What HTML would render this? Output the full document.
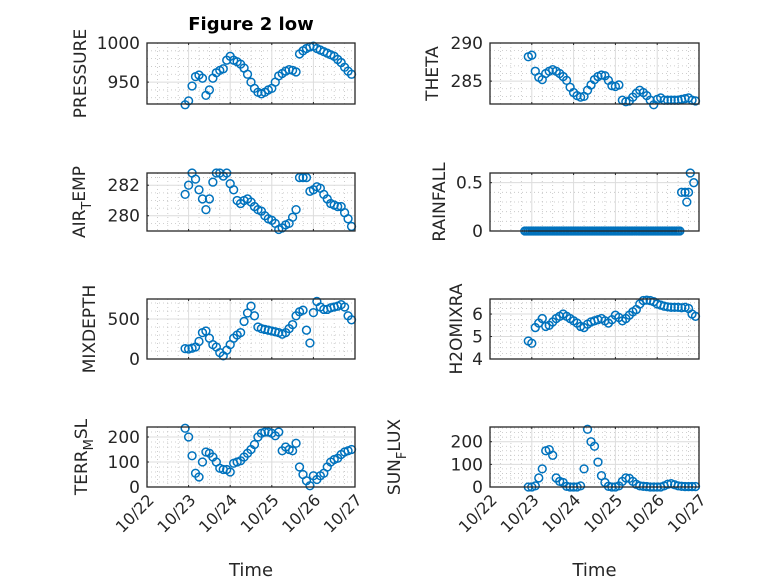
<!DOCTYPE html>
<html><head><meta charset="utf-8"><style>
body{margin:0;background:#fff;}
svg{display:block;font-family:"DejaVu Sans","Liberation Sans",sans-serif;}
</style></head><body>
<svg id="fig" width="778" height="583" viewBox="0 0 778 583" xmlns="http://www.w3.org/2000/svg">
<rect width="778" height="583" fill="#fff"/>
<text x="251" y="30" text-anchor="middle" font-size="18" font-weight="bold" fill="#000">Figure 2 low</text>
</svg>
<script>
// common time axis: hours since 10/22 00:00
const hours = [22,24,26,28,30,32,34,36,38,40,42,44,46,48,50,52,54,56,58,60,62,64,66,68,70,72,74,76,78,80,82,84,86,88,90,92,94,96,98,100,102,104,106,108,110,112,114,116,118];
const rainHours = [20,21,22,23,24,25,26,27,28,29,30,31,32,33,34,35,36,37,38,39,40,41,42,43,44,45,46,47,48,49,50,51,52,53,54,55,56,57,58,59,60,61,62,63,64,65,66,67,68,69,70,71,72,73,74,75,76,77,78,79,80,81,82,83,84,85,86,87,88,89,90,91,92,93,94,95,96,97,98,99,100,101,102,103,104,105,106,107,108,109,110,112,113,114,115,117];
const xTickLabels = ["10/22","10/23","10/24","10/25","10/26","10/27"];
const pressureVals = [921,926,945,957,959,955,933,940,955,962,965,967,978,983,978,976,973,968,960,950,942,937,935,937,940,942,950,958,961,964,966,965,963,986,990,993,995,996,993,991,989,987,985,983,979,975,969,964,960];
const thetaVals = [288.2,288.4,286.3,285.5,285.2,286.0,286.3,286.5,286.3,286.0,285.6,285.1,284.2,283.5,283.1,282.9,283.0,283.8,284.5,285.2,285.6,285.8,285.7,285.1,284.4,284.3,284.5,282.5,282.3,282.4,282.9,283.4,283.8,283.5,283.1,282.5,281.9,282.6,282.8,282.5,282.5,282.5,282.5,282.5,282.6,282.7,282.8,282.5,282.4];
const airTempVals = [281.4,282.0,282.8,282.4,281.7,281.1,280.4,281.1,282.2,282.8,282.8,282.6,282.8,282.1,281.7,281.0,280.8,281.0,281.1,280.9,280.6,280.4,280.3,280.0,279.8,279.7,279.5,279.1,279.2,279.4,279.5,279.9,280.4,282.5,282.5,282.5,281.6,281.7,281.9,281.8,281.4,281.1,280.8,280.7,280.6,280.6,280.2,279.8,279.3];
const rainVals = [0,0,0,0,0,0,0,0,0,0,0,0,0,0,0,0,0,0,0,0,0,0,0,0,0,0,0,0,0,0,0,0,0,0,0,0,0,0,0,0,0,0,0,0,0,0,0,0,0,0,0,0,0,0,0,0,0,0,0,0,0,0,0,0,0,0,0,0,0,0,0,0,0,0,0,0,0,0,0,0,0,0,0,0,0,0,0,0,0,0,0.4,0.4,0.3,0.4,0.6,0.5];
const mixVals = [130,125,135,150,220,330,350,260,180,150,80,40,110,180,260,300,330,470,575,660,540,400,380,370,360,350,340,330,310,330,380,430,540,590,610,360,200,580,720,650,620,620,640,650,660,680,650,540,490];
const h2oVals = [4.8,4.7,5.4,5.6,5.8,5.45,5.5,5.65,5.8,5.9,6.0,5.9,5.8,5.7,5.6,5.45,5.4,5.55,5.65,5.7,5.75,5.8,5.7,5.6,5.75,5.95,5.85,5.7,5.8,5.95,6.1,6.2,6.45,6.6,6.62,6.6,6.55,6.45,6.4,6.35,6.32,6.3,6.3,6.3,6.28,6.3,6.25,6.0,5.9];
const terrVals = [235,200,125,55,40,100,140,135,120,100,75,70,70,60,95,100,105,120,135,150,170,200,215,220,220,215,205,220,145,160,150,145,175,80,50,25,5,45,30,45,55,80,100,110,115,130,140,145,150];
const sunVals = [0,0,5,40,80,160,165,140,40,25,20,3,0,0,0,5,80,255,200,180,110,50,20,3,0,0,5,25,40,38,25,12,5,3,2,0,0,0,0,5,12,15,10,5,3,2,2,2,2];

const panels = [
 {name:"pressure",label:["PRESSURE"],lx:86,t:hours,vals:pressureVals,ylim:[922,1000],ticks:[950,1000],minor:10,L:147,R:355,T:43,B:104,bottom:false},
 {name:"theta",label:["THETA"],lx:438,t:hours,vals:thetaVals,ylim:[282,290],ticks:[285,290],minor:1,L:490,R:699,T:43,B:104,bottom:false},
 {name:"air-temp",label:["AIR","T","EMP"],lx:85,t:hours,vals:airTempVals,ylim:[279,282.8],ticks:[280,282],minor:0.5,L:147,R:355,T:173,B:231,bottom:false},
 {name:"rainfall",label:["RAINFALL"],lx:445,t:rainHours,vals:rainVals,ylim:[0,0.6],ticks:[0,0.5],minor:0.1,L:490,R:699,T:173,B:231,bottom:false},
 {name:"mixdepth",label:["MIXDEPTH"],lx:95,t:hours,vals:mixVals,ylim:[0,750],ticks:[0,500],minor:100,L:147,R:355,T:299,B:359,bottom:false},
 {name:"h2omixra",label:["H2OMIXRA"],lx:462,t:hours,vals:h2oVals,ylim:[4,6.67],ticks:[4,5,6],minor:0.25,L:490,R:699,T:299,B:359,bottom:false},
 {name:"terr-msl",label:["TERR","M","SL"],lx:87,t:hours,vals:terrVals,ylim:[0,240],ticks:[0,100,200],minor:20,L:147,R:355,T:427,B:487,bottom:true},
 {name:"sun-flux",label:["SUN","F","LUX"],lx:400,t:hours,vals:sunVals,ylim:[0,265],ticks:[0,100,200],minor:20,L:490,R:699,T:427,B:487,bottom:true}
];
const NS="http://www.w3.org/2000/svg";
const svg=document.getElementById('fig');
function mk(tag,attrs,parent){const e=document.createElementNS(NS,tag);for(const k in attrs)e.setAttribute(k,attrs[k]);(parent||svg).appendChild(e);return e;}

panels.forEach(p=>{
  const g=mk('g',{});
  
  
  const X=h=>p.L+h*(p.R-p.L)/120;
  const Y=v=>p.B-(v-p.ylim[0])*(p.B-p.T)/(p.ylim[1]-p.ylim[0]);
  for(let h=6;h<120;h+=6){ if(h%24===0) continue;
    const l=mk('line',{x1:X(h),x2:X(h),y1:p.T,y2:p.B,stroke:'#c0c0c0','stroke-width':0.8,'stroke-dasharray':'1,3'},g);
    
    
  }
  const start=Math.ceil(p.ylim[0]/p.minor)*p.minor;
  for(let v=start;v<p.ylim[1]-1e-9;v+=p.minor){ if(p.ticks.some(t=>Math.abs(t-v)<1e-6)) continue;
    const l=mk('line',{x1:p.L,x2:p.R,y1:Y(v),y2:Y(v),stroke:'#c0c0c0','stroke-width':0.8,'stroke-dasharray':'1,3'},g);
    
    
  }
  for(let d=1;d<5;d++){
    const l=mk('line',{x1:X(d*24),x2:X(d*24),y1:p.T,y2:p.B,stroke:'#dcdcdc','stroke-width':1},g);
    
    
  }
  p.ticks.forEach(t=>{
    const l=mk('line',{x1:p.L,x2:p.R,y1:Y(t),y2:Y(t),stroke:'#dcdcdc','stroke-width':1},g);
    
    
    const tx=mk('text',{x:p.L-7,y:Y(t)+6,'text-anchor':'end','font-size':17,fill:'#262626'},g);
    tx.textContent=t;
    
    
    const tk=mk('line',{x1:p.L,x2:p.L+2,y1:Y(t),y2:Y(t),stroke:'#262626'},g);
    
    
  });
  for(let d=0;d<=5;d++){
    const tk=mk('line',{x1:X(d*24),x2:X(d*24),y1:p.B,y2:p.B-2,stroke:'#262626'},g);
    
    
    const tk2=mk('line',{x1:X(d*24),x2:X(d*24),y1:p.T,y2:p.T+2,stroke:'#262626'},g);
    
    
    if(p.bottom){
      const ax=X(d*24)+8, ay=p.B+14;
      const tx=mk('text',{x:ax,y:ay,'text-anchor':'end','font-size':16,fill:'#262626',transform:`rotate(-45 ${ax} ${ay})`},g);
      tx.textContent=xTickLabels[d];
      
      
    }
  }
  p.vals.forEach((v,i)=>{
    const c=mk('circle',{cx:X(p.t[i]),cy:Y(v),r:3.9,fill:'none',stroke:'#0072BD','stroke-width':1.5},g);
    
    
  });
  const b=mk('rect',{x:p.L,y:p.T,width:p.R-p.L,height:p.B-p.T,fill:'none',stroke:'#262626','stroke-width':1.3},g);
  
  
  const lx=p.lx, ly=(p.T+p.B)/2;
  const yl=mk('text',{x:lx,y:ly,'text-anchor':'middle','font-size':17,fill:'#262626',transform:`rotate(-90 ${lx} ${ly})`},g);
  
  
  if(p.label.length===1){ yl.textContent=p.label[0]; }
  else{
    const a=mk('tspan',{},yl); a.textContent=p.label[0];
    const s=mk('tspan',{dy:6,'font-size':13},yl); s.textContent=p.label[1];
    const c=mk('tspan',{dy:-6},yl); c.textContent=p.label[2];
  }
  if(p.bottom){
    const tt=mk('text',{x:(p.L+p.R)/2,y:576,'text-anchor':'middle','font-size':18,fill:'#262626'},g);
    tt.textContent='Time';
    
    
  }
});
</script>
</body></html>
